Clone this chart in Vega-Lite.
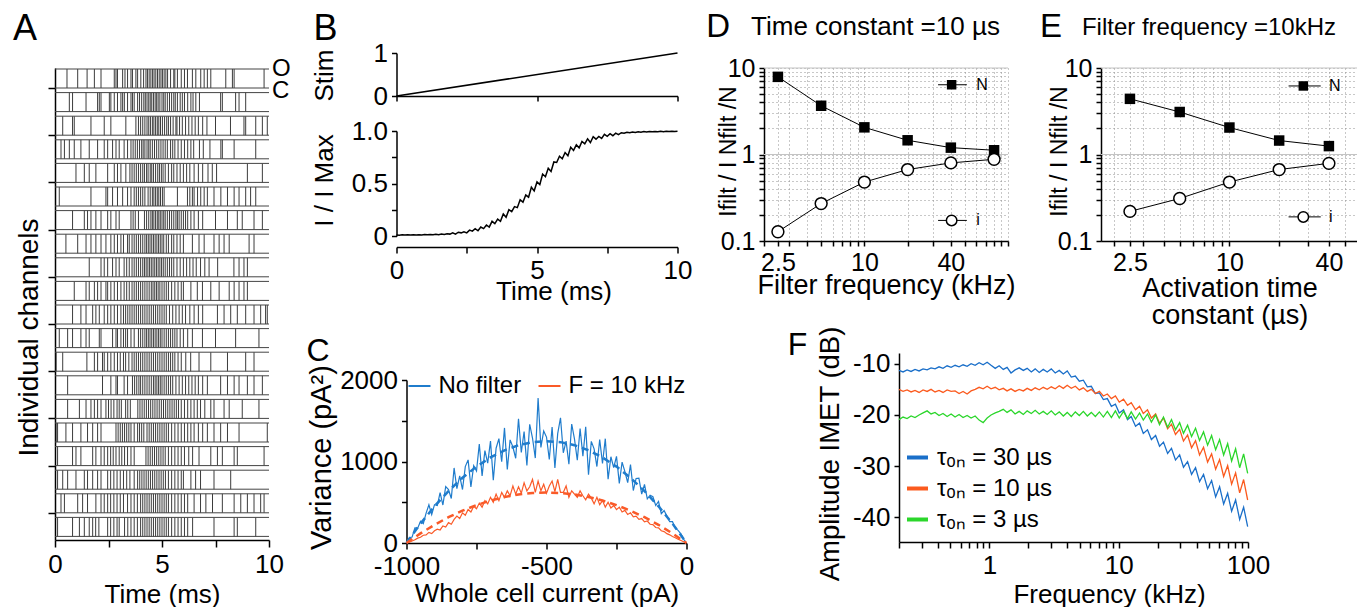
{
"$schema":"https://vega.github.io/schema/vega-lite/v6.json",
"background":"white",
"padding":{"left":12,"top":11,"right":0,"bottom":0},
"config":{
 "font":"Liberation Sans",
 "view":{"stroke":null},
 "axis":{"grid":false,"labelFontSize":26,"titleFontSize":28,"titleFontWeight":"normal","labelColor":"black","titleColor":"black","domainColor":"black","tickColor":"black","domainWidth":1.5,"tickWidth":1.5,"tickSize":5,"labelPadding":4,"labelFont":"Liberation Sans","titleFont":"Liberation Sans","labelFlush":false,"labelOverlap":false},
 "text":{"font":"Liberation Sans","color":"black"},
 "legend":{"labelFont":"Liberation Sans","labelColor":"black"}
},
"resolve":{"scale":{"color":"independent"},"legend":{"color":"independent"}},
"hconcat":[
 {"resolve":{"scale":{"color":"independent"},"legend":{"color":"independent"}},
  "hconcat":[
  {"vconcat":[
   {"width":1,"height":1,"data":{"values":[]},"mark":"point","encoding":{}},
   {
   "width":214,"height":472,
   "data":{"values":[
    {"c":1,"t":[0.56,1.06,1.5,1.84,2.15,2.77,2.85,2.92,3.16,3.27,3.39,3.55,3.62,3.78,3.86,4.01,4.14,4.25,4.32,4.4,4.48,4.56,4.63,4.71,4.79,4.87,4.95,5.02,5.1,5.18,5.26,5.4,5.55,5.6,5.72,5.9,6.05,6.19,6.42,6.58,6.81,6.97,7.12,7.28,7.98,8.29,8.37,9.77]},
    {"c":2,"t":[0.67,0.82,1.45,1.99,2.07,2.15,2.54,2.61,2.77,2.92,3.08,3.16,3.24,3.39,3.55,3.62,3.7,3.86,3.95,4.05,4.15,4.22,4.3,4.38,4.45,4.52,4.6,4.68,4.75,4.82,4.9,5.0,5.08,5.15,5.25,5.35,5.45,5.55,5.62,5.72,5.85,5.95,6.05,6.2,6.35,6.45,6.58,6.75,7.74,7.82,8.44,8.6,8.91]},
    {"c":3,"t":[0.36,0.82,0.9,1.68,2.3,2.61,3.31,3.78,3.9,4.0,4.1,4.2,4.3,4.38,4.46,4.55,4.62,4.7,4.78,4.85,4.93,5.02,5.12,5.22,5.3,5.4,5.52,5.65,5.7,5.82,5.95,6.1,6.25,6.4,6.55,6.7,6.9,7.1,7.5,8.2,8.83,8.91,9.38,9.69,9.92]},
    {"c":4,"t":[0.28,0.44,0.67,0.9,1.21,1.6,1.99,2.3,2.46,2.69,2.85,3.0,3.23,3.39,3.55,3.65,3.75,3.85,3.95,4.05,4.12,4.2,4.3,4.38,4.45,4.55,4.65,4.75,4.85,4.95,5.05,5.15,5.25,5.4,5.5,5.6,5.75,5.9,6.05,6.2,6.35,6.48,6.75,6.93,7.24,7.75,7.82,8.37,9.38]},
    {"c":5,"t":[0.98,1.37,1.6,1.91,2.46,2.77,2.92,3.08,3.31,3.5,3.6,3.7,3.8,3.9,4.0,4.1,4.18,4.28,4.35,4.45,4.52,4.6,4.7,4.8,4.88,4.97,5.05,5.15,5.3,5.45,5.55,5.7,5.85,6.0,6.15,6.3,6.5,6.7,6.9,7.15,7.35,7.55,8.99,9.69]},
    {"c":6,"t":[0.2,1.68,2.38,2.46,2.69,2.92,3.16,3.39,3.55,3.7,3.8,3.9,4.0,4.1,4.2,4.35,4.45,4.55,4.62,4.7,4.78,4.85,4.93,5.02,5.1,5.72,6.19,6.3,6.42,6.5,6.66,6.81,6.97,7.12,7.43,7.75,8.06,8.37,8.6,8.91,9.14,9.38]},
    {"c":7,"t":[0.82,1.37,1.52,1.68,1.91,2.15,2.46,2.61,2.85,3.0,3.55,3.65,3.75,3.9,4.18,4.28,4.38,4.48,4.55,4.62,4.7,4.78,4.85,4.92,5.0,5.08,5.15,5.25,5.35,5.45,5.55,5.65,5.72,5.8,5.9,6.0,6.1,6.2,6.35,6.5,6.7,6.9,7.5,8.06,8.52,8.75,9.3,9.69]},
    {"c":8,"t":[0.51,1.06,1.45,1.68,1.91,2.15,2.38,2.61,2.77,2.92,3.08,3.2,3.39,3.47,3.6,3.7,3.8,3.9,4.0,4.1,4.2,4.28,4.36,4.44,4.52,4.6,4.68,4.76,4.84,4.92,5.0,5.08,5.2,5.3,5.45,5.55,5.7,5.85,6.0,6.42,6.73,6.97,7.43,7.67,7.9,8.14,9.07,9.3]},
    {"c":9,"t":[1.6,2.15,2.3,2.46,2.69,2.85,3.0,3.23,3.35,3.47,3.6,3.7,3.8,3.9,4.0,4.1,4.18,4.26,4.34,4.42,4.5,4.58,4.66,4.74,4.82,4.9,4.98,5.06,5.15,5.25,5.35,5.45,5.55,5.7,5.85,6.0,6.15,6.3,6.45,6.6,6.8,7.0,7.2,7.6,8.36,8.6,8.83,8.99]},
    {"c":10,"t":[0.9,1.45,1.6,1.84,1.99,2.15,2.38,2.46,2.61,2.77,2.92,3.08,3.23,3.35,3.47,3.6,3.7,3.8,3.9,4.0,4.1,4.2,4.3,4.4,4.5,4.58,4.66,4.74,4.82,4.9,5.0,5.1,5.2,5.3,5.45,5.6,5.75,5.9,6.0,6.35,6.65,6.89,7.28,7.67,8.14,8.37,8.6,8.83,8.99]},
    {"c":11,"t":[0.82,1.21,1.45,1.76,1.91,2.07,2.3,2.46,2.61,2.77,2.92,3.08,3.2,3.3,3.4,3.5,3.6,3.7,3.8,3.9,4.0,4.1,4.2,4.3,4.4,4.5,4.6,4.7,4.8,4.9,5.0,5.1,5.2,5.35,5.5,5.65,5.8,5.95,6.1,6.3,6.5,6.7,6.9,7.59,7.9,8.21,8.52,8.91,9.3,9.61,9.84,9.92]},
    {"c":12,"t":[0.2,0.59,0.82,1.21,1.45,1.6,2.07,2.15,2.69,2.85,2.92,3.08,3.2,3.3,3.39,3.55,3.7,3.9,4.0,4.1,4.2,4.28,4.36,4.44,4.52,4.6,4.68,4.76,4.84,4.92,5.0,5.1,5.2,5.3,5.4,5.5,5.6,5.7,5.85,6.0,6.2,6.42,6.89,7.5,8.44,9.53]},
    {"c":13,"t":[0.05,0.36,1.49,1.84,1.99,2.22,2.3,2.46,2.61,2.77,2.92,3.05,3.2,3.3,3.45,3.6,3.7,3.8,3.9,4.0,4.1,4.2,4.3,4.4,4.5,4.6,4.7,4.8,4.9,5.0,5.1,5.2,5.3,5.4,5.5,5.6,5.75,5.9,6.11,6.34,6.73,7.28,8.06,8.91,9.3]},
    {"c":14,"t":[0.59,2.22,2.61,2.85,2.92,3.23,3.39,3.62,3.72,3.82,3.92,4.0,4.1,4.2,4.3,4.4,4.5,4.6,4.68,4.76,4.84,4.92,5.0,5.1,5.2,5.3,5.4,5.5,5.65,5.8,5.95,6.1,6.25,6.4,6.55,6.7,6.9,7.12,7.74,8.06,8.37,8.6,8.99,9.3,9.69]},
    {"c":15,"t":[0.59,1.14,1.45,1.68,1.84,1.99,2.15,2.38,2.5,2.62,2.75,2.9,3.0,3.1,3.3,3.4,3.52,3.87,3.97,4.07,4.17,4.27,4.37,4.47,4.57,4.67,4.77,4.87,4.97,5.07,5.17,5.27,5.37,5.47,5.57,5.67,5.77,5.9,6.05,6.2,6.35,6.5,6.65,6.8,7.0,7.28,7.43,7.9,8.14,8.75,9.53]},
    {"c":16,"t":[0.05,0.12,0.51,0.82,1.21,1.52,1.76,1.99,2.15,2.85,2.95,3.05,3.15,3.25,3.35,3.45,3.55,3.7,3.86,3.95,4.05,4.15,4.3,4.4,4.5,4.6,4.7,4.8,4.9,5.0,5.1,5.2,5.3,5.45,5.6,5.75,5.9,6.05,6.2,6.35,6.5,6.7,6.9,7.12,7.43,7.74,8.06,8.6,9.92]},
    {"c":17,"t":[0.12,0.82,0.98,1.21,1.76,1.91,2.15,2.3,2.46,2.6,2.72,2.85,3.0,3.12,3.25,3.39,3.55,3.7,4.25,4.35,4.45,4.55,4.65,4.75,4.85,4.95,5.05,5.15,5.3,5.45,5.6,5.75,5.9,6.05,6.25,6.43,6.73,7.28,7.59,7.82,8.37,8.52,9.77]},
    {"c":18,"t":[0.12,0.36,0.59,0.98,1.37,1.52,1.76,1.99,2.15,2.46,2.6,2.75,2.9,3.05,3.2,3.35,3.5,3.7,3.86,3.96,4.06,4.16,4.26,4.36,4.46,4.56,4.66,4.76,4.86,4.96,5.06,5.16,5.3,5.45,5.6,5.75,5.9,6.0,6.35,6.57,6.8,7.43,8.21]},
    {"c":19,"t":[0.28,0.44,1.06,1.29,1.52,1.91,2.15,2.3,2.46,2.6,2.75,2.9,3.05,3.2,3.39,3.55,3.7,3.85,4.0,4.1,4.2,4.3,4.4,4.5,4.6,4.7,4.8,4.9,5.0,5.1,5.2,5.3,5.45,5.6,5.75,5.9,6.05,6.2,6.5,6.8,7.05,7.36,7.82,8.37,8.68,8.99,9.3,9.61,9.77]},
    {"c":20,"t":[0.12,0.82,1.14,1.37,1.6,1.76,1.9,2.05,2.46,2.6,2.75,2.9,3.0,3.25,3.4,3.55,3.7,3.85,4.0,4.1,4.2,4.3,4.4,4.5,4.6,4.7,4.8,4.9,5.0,5.1,5.2,5.3,5.45,5.6,5.75,5.9,6.05,6.2,6.43,7.43,8.37,8.52,9.38]}
   ]},
   "layer":[
    {"transform":[{"flatten":["t"]}],
     "mark":{"type":"tick","orient":"vertical","size":19,"thickness":1,"color":"#1a1a1a","opacity":0.85,"yOffset":-1.3},
     "encoding":{
      "x":{"field":"t","type":"quantitative","scale":{"domain":[0,10],"nice":false},
       "axis":{"title":"Time (ms)","values":[0,2.5,5,7.5,10],"labelExpr":"datum.value % 5 == 0 ? datum.label : ''","tickSize":7,"titleFontSize":26,"titleY":54,"titleBaseline":"middle"}},
      "y":{"field":"c","type":"ordinal","scale":{"paddingInner":0,"paddingOuter":0},
       "axis":{"title":"Individual channels","values":[1,3,5,7,9,11,13,15,17,19],"labels":false,"tickSize":7,"tickOffset":8.2,"titleX":-26,"titleY":269,"titleAngle":-90,"titleBaseline":"middle","titleAlign":"center","titleFontSize":28}}
     }},
    {"mark":{"type":"rule","color":"#444444","strokeWidth":1,"yOffset":-10.8},
     "encoding":{"x":{"datum":0},"x2":{"datum":10},"y":{"field":"c","type":"ordinal"}}},
    {"mark":{"type":"rule","color":"#444444","strokeWidth":1,"yOffset":8.2},
     "encoding":{"x":{"datum":0},"x2":{"datum":10},"y":{"field":"c","type":"ordinal"}}},
    {"data":{"values":[{"c":1,"lab":"O"}]},
     "mark":{"type":"text","align":"left","baseline":"middle","dx":3,"yOffset":-10.8,"fontSize":24},
     "encoding":{"x":{"datum":10},"y":{"field":"c","type":"ordinal"},"text":{"field":"lab"}}},
    {"data":{"values":[{"c":1,"lab":"C"}]},
     "mark":{"type":"text","align":"left","baseline":"middle","dx":3,"yOffset":11,"fontSize":24},
     "encoding":{"x":{"datum":10},"y":{"field":"c","type":"ordinal"},"text":{"field":"lab"}}},
    {"data":{"values":[{"c":1,"lab":"A"}]},
     "mark":{"type":"text","align":"left","baseline":"alphabetic","yOffset":-39.8,"fontSize":36},
     "encoding":{"x":{"datum":-1.963},"y":{"field":"c","type":"ordinal"},"text":{"field":"lab"}}}
   ]
   }
  ],"spacing":14,"bounds":"flush"},
  {"resolve":{"scale":{"color":"independent"},"legend":{"color":"independent"}},
   "vconcat":[
   {"vconcat":[
    {
     "width":281,"height":43,
     "layer":[
      {"data":{"values":[{"t":0,"s":0},{"t":10,"s":1}]},
       "mark":{"type":"line","color":"black","strokeWidth":1.5},
       "encoding":{
        "x":{"field":"t","type":"quantitative","scale":{"domain":[0,10],"nice":false},"axis":{"title":null,"labels":false,"values":[0,5,10],"tickSize":5}},
        "y":{"field":"s","type":"quantitative","scale":{"domain":[0,1],"nice":false},"axis":{"title":"Stim","values":[0,0.5,1],"labelExpr":"datum.value == 0 ? '0' : datum.value == 1 ? '1' : ''","titleX":-72,"titleY":22,"titleAngle":-90,"titleBaseline":"middle","titleAlign":"center","titleFontSize":26}}
       }},
      {"data":{"values":[{}]},
       "mark":{"type":"text","text":"B","align":"left","baseline":"alphabetic","fontSize":36},
       "encoding":{"x":{"datum":-2.95},"y":{"datum":1.302}}}
     ]
    },
    {
     "width":281,"height":105,
     "data":{"values":[
      {"t":0,"v":0.01},{"t":0.1,"v":0.008},{"t":0.2,"v":0.012},{"t":0.3,"v":0.009},{"t":0.4,"v":0.011},{"t":0.5,"v":0.01},{"t":0.6,"v":0.013},{"t":0.7,"v":0.009},{"t":0.8,"v":0.012},{"t":0.9,"v":0.01},
      {"t":1.0,"v":0.014},{"t":1.1,"v":0.011},{"t":1.2,"v":0.015},{"t":1.3,"v":0.012},{"t":1.4,"v":0.016},{"t":1.5,"v":0.013},{"t":1.6,"v":0.018},{"t":1.7,"v":0.015},{"t":1.8,"v":0.021},{"t":1.9,"v":0.018},
      {"t":2.0,"v":0.03},{"t":2.1,"v":0.018},{"t":2.2,"v":0.036},{"t":2.3,"v":0.03},{"t":2.4,"v":0.041},{"t":2.5,"v":0.03},{"t":2.6,"v":0.056},{"t":2.7,"v":0.046},{"t":2.8,"v":0.07},{"t":2.9,"v":0.05},
      {"t":3.0,"v":0.085},{"t":3.1,"v":0.07},{"t":3.2,"v":0.105},{"t":3.3,"v":0.085},{"t":3.4,"v":0.14},{"t":3.5,"v":0.118},{"t":3.6,"v":0.16},{"t":3.7,"v":0.14},{"t":3.8,"v":0.21},{"t":3.9,"v":0.178},
      {"t":4.0,"v":0.25},{"t":4.1,"v":0.232},{"t":4.2,"v":0.28},{"t":4.3,"v":0.27},{"t":4.4,"v":0.345},{"t":4.5,"v":0.322},{"t":4.6,"v":0.39},{"t":4.7,"v":0.37},{"t":4.8,"v":0.465},{"t":4.9,"v":0.43},
      {"t":5.0,"v":0.515},{"t":5.1,"v":0.49},{"t":5.2,"v":0.59},{"t":5.3,"v":0.565},{"t":5.4,"v":0.645},{"t":5.5,"v":0.615},{"t":5.6,"v":0.705},{"t":5.7,"v":0.7},{"t":5.8,"v":0.76},{"t":5.9,"v":0.735},
      {"t":6.0,"v":0.795},{"t":6.1,"v":0.765},{"t":6.2,"v":0.845},{"t":6.3,"v":0.815},{"t":6.4,"v":0.868},{"t":6.5,"v":0.84},{"t":6.6,"v":0.9},{"t":6.7,"v":0.878},{"t":6.8,"v":0.925},{"t":6.9,"v":0.89},
      {"t":7.0,"v":0.945},{"t":7.1,"v":0.922},{"t":7.2,"v":0.948},{"t":7.3,"v":0.93},{"t":7.4,"v":0.968},{"t":7.5,"v":0.95},{"t":7.6,"v":0.975},{"t":7.7,"v":0.955},{"t":7.8,"v":0.98},{"t":7.9,"v":0.966},
      {"t":8.0,"v":0.984},{"t":8.1,"v":0.978},{"t":8.2,"v":0.988},{"t":8.3,"v":0.983},{"t":8.4,"v":0.99},{"t":8.5,"v":0.986},{"t":8.6,"v":0.993},{"t":8.7,"v":0.988},{"t":8.8,"v":0.994},{"t":8.9,"v":0.99},
      {"t":9.0,"v":0.995},{"t":9.1,"v":0.992},{"t":9.2,"v":0.996},{"t":9.3,"v":0.993},{"t":9.4,"v":0.997},{"t":9.5,"v":0.994},{"t":9.6,"v":0.997},{"t":9.7,"v":0.995},{"t":9.8,"v":0.998},{"t":9.9,"v":0.995},{"t":10.0,"v":0.997}
     ]},
     "mark":{"type":"line","color":"black","strokeWidth":1.5},
     "encoding":{
      "x":{"field":"t","type":"quantitative","scale":{"domain":[0,10],"nice":false},"axis":{"title":"Time (ms)","offset":11,"values":[0,2.5,5,7.5,10],"labelExpr":"datum.value % 5 == 0 ? datum.label : ''","tickSize":6,"titleX":157,"titleY":44.5,"titleBaseline":"middle","titleFontSize":26}},
      "y":{"field":"v","type":"quantitative","scale":{"domain":[0,1],"nice":false},"axis":{"title":"I / I Max","values":[0,0.25,0.5,0.75,1],"labelExpr":"datum.value == 0 ? '0' : datum.value == 0.5 ? '0.5' : datum.value == 1 ? '1.0' : ''","titleX":-72,"titleY":49,"titleAngle":-90,"titleBaseline":"middle","titleAlign":"center","titleFontSize":26}}
     }
    }
   ],"spacing":35,"bounds":"flush"},
   {"resolve":{"scale":{"color":"independent"},"legend":{"color":"independent"}},
    "hconcat":[
    {"width":1,"height":1,"data":{"values":[]},"mark":"point","encoding":{}},
    {
    "width":280,"height":163,
    "layer":[
     {"data":{"values":[
      {"x":-1000,"b":0,"o":0},{"x":-990,"b":65,"o":10},{"x":-980,"b":73,"o":25},{"x":-970,"b":186,"o":40},{"x":-960,"b":182,"o":60},{"x":-950,"b":268,"o":70},{"x":-940,"b":237,"o":95},{"x":-930,"b":366,"o":100},{"x":-920,"b":468,"o":130},{"x":-910,"b":350,"o":115},
      {"x":-900,"b":470,"o":150},{"x":-890,"b":460,"o":170},{"x":-880,"b":618,"o":160},{"x":-870,"b":466,"o":210},{"x":-860,"b":692,"o":195},{"x":-850,"b":655,"o":250},{"x":-840,"b":546,"o":230},{"x":-830,"b":921,"o":290},{"x":-820,"b":666,"o":330},{"x":-810,"b":823,"o":300},
      {"x":-800,"b":656,"o":370},{"x":-790,"b":937,"o":340},{"x":-780,"b":1020,"o":410},{"x":-770,"b":687,"o":380},{"x":-760,"b":948,"o":450},{"x":-750,"b":884,"o":420},{"x":-740,"b":1214,"o":490},{"x":-730,"b":823,"o":440},{"x":-720,"b":1133,"o":520},{"x":-710,"b":980,"o":480},
      {"x":-700,"b":1250,"o":560},{"x":-690,"b":770,"o":500},{"x":-680,"b":1163,"o":600},{"x":-670,"b":1280,"o":520},{"x":-660,"b":997,"o":620},{"x":-650,"b":1412,"o":560},{"x":-640,"b":902,"o":640},{"x":-630,"b":1265,"o":580},{"x":-620,"b":1178,"o":700},{"x":-610,"b":1040,"o":600},
      {"x":-600,"b":1525,"o":690},{"x":-590,"b":1110,"o":610},{"x":-580,"b":1368,"o":740},{"x":-570,"b":950,"o":640},{"x":-560,"b":1457,"o":690},{"x":-550,"b":1288,"o":780},{"x":-540,"b":1042,"o":620},{"x":-530,"b":1780,"o":760},{"x":-520,"b":1173,"o":640},{"x":-510,"b":1375,"o":720},
      {"x":-500,"b":1300,"o":610},{"x":-490,"b":1025,"o":700},{"x":-480,"b":1423,"o":760},{"x":-470,"b":920,"o":630},{"x":-460,"b":1342,"o":780},{"x":-450,"b":1537,"o":620},{"x":-440,"b":1107,"o":620},{"x":-430,"b":1250,"o":700},{"x":-420,"b":968,"o":560},{"x":-410,"b":1460,"o":640},
      {"x":-400,"b":1275,"o":600},{"x":-390,"b":1015,"o":560},{"x":-380,"b":1403,"o":640},{"x":-370,"b":1066,"o":580},{"x":-360,"b":1427,"o":530},{"x":-350,"b":838,"o":600},{"x":-340,"b":1247,"o":550},{"x":-330,"b":1156,"o":480},{"x":-320,"b":938,"o":560},{"x":-310,"b":1270,"o":470},
      {"x":-300,"b":975,"o":520},{"x":-290,"b":1280,"o":440},{"x":-280,"b":783,"o":500},{"x":-270,"b":1058,"o":430},{"x":-260,"b":926,"o":460},{"x":-250,"b":1063,"o":410},{"x":-240,"b":732,"o":440},{"x":-230,"b":993,"o":380},{"x":-220,"b":876,"o":400},{"x":-210,"b":740,"o":350},
      {"x":-200,"b":962,"o":370},{"x":-190,"b":644,"o":320},{"x":-180,"b":792,"o":330},{"x":-170,"b":796,"o":290},{"x":-160,"b":600,"o":300},{"x":-150,"b":718,"o":260},{"x":-140,"b":542,"o":270},{"x":-130,"b":586,"o":230},{"x":-120,"b":568,"o":225},{"x":-110,"b":460,"o":190},
      {"x":-100,"b":510,"o":185},{"x":-90,"b":360,"o":150},{"x":-80,"b":398,"o":140},{"x":-70,"b":330,"o":115},{"x":-60,"b":262,"o":100},{"x":-50,"b":262,"o":80},{"x":-40,"b":182,"o":65},{"x":-30,"b":155,"o":45},{"x":-20,"b":113,"o":30},{"x":-10,"b":45,"o":15},{"x":0,"b":0,"o":0}
     ]},
     "transform":[{"fold":["b","o"],"as":["k","v"]}],
     "mark":{"type":"line","strokeWidth":1.2},
     "encoding":{
      "x":{"field":"x","type":"quantitative","scale":{"domain":[-1000,0],"nice":false},"axis":{"title":"Whole cell current (pA)","values":[-1000,-750,-500,-250,0],"labelExpr":"datum.value % 500 == 0 ? toString(datum.value) : ''","tickSize":6,"titleY":50,"titleBaseline":"middle","titleFontSize":26}},
      "y":{"field":"v","type":"quantitative","scale":{"domain":[0,2000],"nice":false},"axis":{"title":"Variance (pA²)","values":[0,500,1000,1500,2000],"labelExpr":"datum.value % 1000 == 0 ? toString(datum.value) : ''","titleX":-85,"titleY":77,"titleAngle":-90,"titleBaseline":"middle","titleAlign":"center","titleFontSize":29}},
      "color":{"field":"k","type":"nominal","scale":{"domain":["b","o"],"range":["#1f7ccc","#fa5a28"]},
       "legend":{"title":null,"orient":"none","legendX":1,"legendY":-6,"direction":"horizontal","symbolType":"stroke","symbolStrokeWidth":2,"symbolSize":484,"labelFontSize":24,"labelExpr":"datum.value == 'b' ? 'No filter' : 'F = 10 kHz'","columnPadding":13,"labelOffset":7}}
     }},
     {"data":{"values":[
      {"x":-1000,"b":0,"o":0},{"x":-950,"b":237.5,"o":117.8},{"x":-900,"b":450,"o":223.2},{"x":-850,"b":637.5,"o":316.2},{"x":-800,"b":800,"o":396.8},{"x":-750,"b":937.5,"o":465},{"x":-700,"b":1050,"o":520.8},{"x":-650,"b":1137.5,"o":564.2},{"x":-600,"b":1200,"o":595.2},{"x":-550,"b":1237.5,"o":613.8},
      {"x":-500,"b":1250,"o":620},{"x":-450,"b":1237.5,"o":613.8},{"x":-400,"b":1200,"o":595.2},{"x":-350,"b":1137.5,"o":564.2},{"x":-300,"b":1050,"o":520.8},{"x":-250,"b":937.5,"o":465},{"x":-200,"b":800,"o":396.8},{"x":-150,"b":637.5,"o":316.2},{"x":-100,"b":450,"o":223.2},{"x":-50,"b":237.5,"o":117.8},{"x":0,"b":0,"o":0}
     ]},
     "transform":[{"fold":["b","o"],"as":["k","v"]}],
     "mark":{"type":"line","strokeWidth":2.5,"strokeDash":[7,5]},
     "encoding":{"x":{"field":"x","type":"quantitative"},"y":{"field":"v","type":"quantitative"},"color":{"field":"k","type":"nominal"}}},
     {"data":{"values":[{}]},
      "mark":{"type":"text","text":"C","align":"left","baseline":"alphabetic","fontSize":32},
      "encoding":{"x":{"datum":-1357},"y":{"datum":2233}}}
    ]
    }
   ],"spacing":9,"bounds":"flush"}
  ],"spacing":30}
 ],"spacing":15.5},
 {"resolve":{"scale":{"color":"independent"},"legend":{"color":"independent"}},
  "vconcat":[
  {"vconcat":[
   {"width":1,"height":1,"data":{"values":[]},"mark":"point","encoding":{}},
   {"hconcat":[
   {
    "width":244,"height":173,
    "layer":[
     {"data":{"values":[{}]},"mark":{"type":"rule","color":"#c4c4c4","strokeWidth":1.2},"encoding":{"y":{"datum":1}}},
     {"data":{"values":[{}]},"mark":{"type":"rule","color":"#c4c4c4","strokeWidth":1.2},"encoding":{"y":{"datum":10}}},
     {"data":{"values":[{"f":2.5,"N":7.9,"i":0.128},{"f":5,"N":3.66,"i":0.271},{"f":10,"N":2.06,"i":0.48},{"f":20,"N":1.46,"i":0.67},{"f":40,"N":1.2,"i":0.8},{"f":80,"N":1.12,"i":0.88}]},
      "transform":[{"fold":["N","i"],"as":["k","v"]}],
      "mark":{"type":"line","color":"black","strokeWidth":1},
      "encoding":{
       "x":{"field":"f","type":"quantitative","scale":{"type":"log","domain":[2,100],"nice":false},"axis":{"title":"Filter frequency (kHz)","values":[2,2.5,3,4,5,6,7,8,9,10,20,30,40,50,60,70,80,90,100],"labelExpr":"datum.value == 2.5 || datum.value == 10 || datum.value == 40 ? toString(datum.value) : ''","labelFontSize":25,"titleFontSize":27,"titleY":44.5,"titleBaseline":"middle","grid":true,"gridDash":[1,3],"gridColor":"#909090","gridWidth":1}},
       "y":{"field":"v","type":"quantitative","scale":{"type":"log","domain":[0.1,10],"nice":false},"axis":{"title":"Ifilt / I   Nfilt /N","values":[0.1,0.2,0.3,0.4,0.5,0.6,0.7,0.8,0.9,1,2,3,4,5,6,7,8,9,10],"labelExpr":"datum.value == 0.1 || datum.value == 1 || datum.value == 10 ? toString(datum.value) : ''","labelFontSize":25,"titleFontSize":23,"titleX":-36,"titleY":83,"titleAngle":-90,"titleBaseline":"middle","titleAlign":"center","grid":true,"gridDash":[1,3],"gridColor":"#909090","gridWidth":1}},
       "detail":{"field":"k"}
      }},
     {"data":{"values":[{"f":2.5,"N":7.9},{"f":5,"N":3.66},{"f":10,"N":2.06},{"f":20,"N":1.46},{"f":40,"N":1.2},{"f":80,"N":1.12}]},
      "mark":{"type":"point","shape":"square","filled":true,"color":"black","size":110,"opacity":1},
      "encoding":{"x":{"field":"f","type":"quantitative"},"y":{"field":"N","type":"quantitative"}}},
     {"data":{"values":[{"f":2.5,"i":0.128},{"f":5,"i":0.271},{"f":10,"i":0.48},{"f":20,"i":0.67},{"f":40,"i":0.8},{"f":80,"i":0.88}]},
      "mark":{"type":"point","shape":"circle","filled":true,"fill":"white","stroke":"black","strokeWidth":1.5,"size":140,"opacity":1},
      "encoding":{"x":{"field":"f","type":"quantitative"},"y":{"field":"i","type":"quantitative"}}},
     {"data":{"values":[{}]},"mark":{"type":"rule","color":"black","strokeWidth":1},"encoding":{"x":{"datum":32.6},"x2":{"datum":51.7},"y":{"datum":6.4}}},
     {"data":{"values":[{}]},"mark":{"type":"point","shape":"square","filled":true,"color":"black","size":90,"opacity":1},"encoding":{"x":{"datum":40.5},"y":{"datum":6.4}}},
     {"data":{"values":[{}]},"mark":{"type":"text","text":"N","align":"left","baseline":"middle","fontSize":16},"encoding":{"x":{"datum":60},"y":{"datum":6.4}}},
     {"data":{"values":[{}]},"mark":{"type":"rule","color":"black","strokeWidth":1},"encoding":{"x":{"datum":32.6},"x2":{"datum":51.7},"y":{"datum":0.173}}},
     {"data":{"values":[{}]},"mark":{"type":"point","shape":"circle","filled":true,"fill":"white","stroke":"black","strokeWidth":1.5,"size":110,"opacity":1},"encoding":{"x":{"datum":40.5},"y":{"datum":0.173}}},
     {"data":{"values":[{}]},"mark":{"type":"text","text":"i","align":"left","baseline":"middle","fontSize":16},"encoding":{"x":{"datum":60},"y":{"datum":0.173}}},
     {"data":{"values":[{}]},"mark":{"type":"text","text":"Time constant =10 µs","align":"left","baseline":"alphabetic","fontSize":26},"encoding":{"x":{"datum":1.625},"y":{"datum":24.2}}},
     {"data":{"values":[{}]},"mark":{"type":"text","text":"D","align":"left","baseline":"alphabetic","fontSize":33},"encoding":{"x":{"datum":0.791},"y":{"datum":22.8}}}
    ]
   },
   {
    "width":257,"height":173,
    "layer":[
     {"data":{"values":[{}]},"mark":{"type":"rule","color":"#c4c4c4","strokeWidth":1.2},"encoding":{"y":{"datum":1}}},
     {"data":{"values":[{}]},"mark":{"type":"rule","color":"#c4c4c4","strokeWidth":1.2},"encoding":{"y":{"datum":10}}},
     {"data":{"values":[{"f":2.5,"N":4.4,"i":0.22},{"f":5,"N":3.1,"i":0.31},{"f":10,"N":2.05,"i":0.48},{"f":20,"N":1.45,"i":0.67},{"f":40,"N":1.25,"i":0.79}]},
      "transform":[{"fold":["N","i"],"as":["k","v"]}],
      "mark":{"type":"line","color":"black","strokeWidth":1},
      "encoding":{
       "x":{"field":"f","type":"quantitative","scale":{"type":"log","domain":[1.67,60],"nice":false},"axis":{"title":["Activation time","constant (µs)"],"values":[2,2.5,3,4,5,6,7,8,9,10,20,30,40,50,60],"labelExpr":"datum.value == 2.5 || datum.value == 10 || datum.value == 40 ? toString(datum.value) : ''","labelFontSize":25,"titleFontSize":27,"titleLineHeight":27,"titleY":47,"titleBaseline":"middle","grid":true,"gridDash":[1,3],"gridColor":"#909090","gridWidth":1}},
       "y":{"field":"v","type":"quantitative","scale":{"type":"log","domain":[0.1,10],"nice":false},"axis":{"title":"Ifilt / I   Nfilt /N","values":[0.1,0.2,0.3,0.4,0.5,0.6,0.7,0.8,0.9,1,2,3,4,5,6,7,8,9,10],"labelExpr":"datum.value == 0.1 || datum.value == 1 || datum.value == 10 ? toString(datum.value) : ''","labelFontSize":25,"titleFontSize":23,"titleX":-42,"titleY":83,"titleAngle":-90,"titleBaseline":"middle","titleAlign":"center","grid":true,"gridDash":[1,3],"gridColor":"#909090","gridWidth":1}},
       "detail":{"field":"k"}
      }},
     {"data":{"values":[{"f":2.5,"N":4.4},{"f":5,"N":3.1},{"f":10,"N":2.05},{"f":20,"N":1.45},{"f":40,"N":1.25}]},
      "mark":{"type":"point","shape":"square","filled":true,"color":"black","size":110,"opacity":1},
      "encoding":{"x":{"field":"f","type":"quantitative"},"y":{"field":"N","type":"quantitative"}}},
     {"data":{"values":[{"f":2.5,"i":0.22},{"f":5,"i":0.31},{"f":10,"i":0.48},{"f":20,"i":0.67},{"f":40,"i":0.79}]},
      "mark":{"type":"point","shape":"circle","filled":true,"fill":"white","stroke":"black","strokeWidth":1.5,"size":140,"opacity":1},
      "encoding":{"x":{"field":"f","type":"quantitative"},"y":{"field":"i","type":"quantitative"}}},
     {"data":{"values":[{}]},"mark":{"type":"rule","color":"black","strokeWidth":1},"encoding":{"x":{"datum":22.8},"x2":{"datum":35.7},"y":{"datum":6.2}}},
     {"data":{"values":[{}]},"mark":{"type":"point","shape":"square","filled":true,"color":"black","size":90,"opacity":1},"encoding":{"x":{"datum":28},"y":{"datum":6.2}}},
     {"data":{"values":[{}]},"mark":{"type":"text","text":"N","align":"left","baseline":"middle","fontSize":16},"encoding":{"x":{"datum":40},"y":{"datum":6.2}}},
     {"data":{"values":[{}]},"mark":{"type":"rule","color":"black","strokeWidth":1},"encoding":{"x":{"datum":22.8},"x2":{"datum":35.7},"y":{"datum":0.19}}},
     {"data":{"values":[{}]},"mark":{"type":"point","shape":"circle","filled":true,"fill":"white","stroke":"black","strokeWidth":1.5,"size":110,"opacity":1},"encoding":{"x":{"datum":28},"y":{"datum":0.19}}},
     {"data":{"values":[{}]},"mark":{"type":"text","text":"i","align":"left","baseline":"middle","fontSize":16},"encoding":{"x":{"datum":40},"y":{"datum":0.19}}},
     {"data":{"values":[{}]},"mark":{"type":"text","text":"Filter frequency =10kHz","align":"left","baseline":"alphabetic","fontSize":24},"encoding":{"x":{"datum":1.28},"y":{"datum":24.2}}},
     {"data":{"values":[{}]},"mark":{"type":"text","text":"E","align":"left","baseline":"alphabetic","fontSize":33},"encoding":{"x":{"datum":0.713},"y":{"datum":22.8}}}
    ]
   }
   ],"spacing":93,"bounds":"flush"}
  ],"spacing":14,"bounds":"flush"},
  {"resolve":{"scale":{"color":"independent"},"legend":{"color":"independent"}},
   "hconcat":[
   {"width":1,"height":1,"data":{"values":[]},"mark":"point","encoding":{}},
   {
    "width":349,"height":189,
    "layer":[
     {"data":{"values":[
     {"f":0.2,"b":-11.3,"o":-15.0,"g":-20.9},{"f":0.215,"b":-11.6,"o":-15.4,"g":-20.4},{"f":0.231,"b":-11.2,"o":-15.1,"g":-20.7},{"f":0.248,"b":-11.5,"o":-15.5,"g":-20.2},{"f":0.266,"b":-11.1,"o":-15.2,"g":-20.5},
     {"f":0.286,"b":-11.4,"o":-15.6,"g":-20.0},{"f":0.307,"b":-11.0,"o":-15.1,"g":-19.6},{"f":0.33,"b":-11.2,"o":-15.4,"g":-19.2},{"f":0.354,"b":-10.8,"o":-15.0,"g":-19.8},{"f":0.38,"b":-11.0,"o":-15.5,"g":-19.5},
     {"f":0.408,"b":-10.6,"o":-15.2,"g":-20.1},{"f":0.438,"b":-10.9,"o":-15.6,"g":-19.7},{"f":0.471,"b":-10.4,"o":-15.1,"g":-20.3},{"f":0.506,"b":-10.7,"o":-15.4,"g":-19.8},{"f":0.543,"b":-10.3,"o":-15.3,"g":-20.4},
     {"f":0.583,"b":-10.6,"o":-15.8,"g":-19.9},{"f":0.626,"b":-10.2,"o":-15.4,"g":-20.5},{"f":0.673,"b":-10.5,"o":-15.9,"g":-20.1},{"f":0.722,"b":-10.0,"o":-15.3,"g":-20.6},{"f":0.776,"b":-10.3,"o":-15.0,"g":-20.2},
     {"f":0.833,"b":-9.8,"o":-14.6,"g":-21.0},{"f":0.895,"b":-10.2,"o":-14.9,"g":-21.5},{"f":0.961,"b":-9.7,"o":-14.4,"g":-20.6},{"f":1.03,"b":-10.3,"o":-14.9,"g":-20.0},{"f":1.11,"b":-10.9,"o":-14.6,"g":-19.6},
     {"f":1.19,"b":-10.4,"o":-15.1,"g":-19.3},{"f":1.28,"b":-11.1,"o":-14.8,"g":-18.9},{"f":1.37,"b":-10.7,"o":-15.3,"g":-19.5},{"f":1.47,"b":-11.8,"o":-14.9,"g":-19.0},{"f":1.58,"b":-11.2,"o":-15.4,"g":-19.8},
     {"f":1.7,"b":-10.8,"o":-15.0,"g":-19.3},{"f":1.83,"b":-11.3,"o":-15.3,"g":-19.9},{"f":1.96,"b":-10.9,"o":-14.8,"g":-19.2},{"f":2.11,"b":-11.6,"o":-15.2,"g":-19.7},{"f":2.26,"b":-11.0,"o":-14.7,"g":-19.1},
     {"f":2.43,"b":-11.7,"o":-15.1,"g":-19.8},{"f":2.61,"b":-11.1,"o":-14.6,"g":-19.3},{"f":2.8,"b":-11.6,"o":-15.0,"g":-19.9},{"f":3.01,"b":-11.0,"o":-14.5,"g":-19.2},{"f":3.23,"b":-11.8,"o":-14.9,"g":-20.0},
     {"f":3.47,"b":-11.3,"o":-14.3,"g":-19.4},{"f":3.73,"b":-12.0,"o":-14.8,"g":-20.2},{"f":4.0,"b":-11.4,"o":-14.2,"g":-19.5},{"f":4.3,"b":-12.6,"o":-14.8,"g":-20.3},{"f":4.62,"b":-12.4,"o":-14.4,"g":-19.4},
     {"f":4.96,"b":-13.4,"o":-15.1,"g":-20.1},{"f":5.33,"b":-13.2,"o":-14.7,"g":-19.3},{"f":5.72,"b":-14.5,"o":-15.4,"g":-20.2},{"f":6.14,"b":-14.4,"o":-15.0,"g":-19.5},{"f":6.6,"b":-15.8,"o":-15.8,"g":-20.3},
     {"f":7.09,"b":-15.7,"o":-15.4,"g":-19.4},{"f":7.61,"b":-17.0,"o":-16.3,"g":-20.4},{"f":8.17,"b":-16.8,"o":-15.9,"g":-19.3},{"f":8.78,"b":-18.3,"o":-16.8,"g":-20.5},{"f":9.43,"b":-17.9,"o":-16.3,"g":-19.2},
     {"f":10.1,"b":-19.6,"o":-17.5,"g":-20.6},{"f":10.9,"b":-19.0,"o":-16.9,"g":-19.3},{"f":11.7,"b":-20.9,"o":-18.1,"g":-20.7},{"f":12.5,"b":-20.3,"o":-17.6,"g":-19.4},{"f":13.5,"b":-22.2,"o":-19.0,"g":-20.8},
     {"f":14.5,"b":-21.6,"o":-18.3,"g":-19.6},{"f":15.5,"b":-23.6,"o":-19.7,"g":-21.0},{"f":16.7,"b":-22.9,"o":-19.0,"g":-19.8},{"f":17.9,"b":-24.8,"o":-20.6,"g":-21.4},{"f":19.3,"b":-24.0,"o":-19.8,"g":-20.0},
     {"f":20.7,"b":-26.1,"o":-21.6,"g":-21.9},{"f":22.2,"b":-25.3,"o":-20.6,"g":-20.4},{"f":23.9,"b":-27.5,"o":-22.7,"g":-22.4},{"f":25.6,"b":-26.5,"o":-21.8,"g":-20.9},{"f":27.5,"b":-28.8,"o":-23.8,"g":-22.9},
     {"f":29.6,"b":-27.8,"o":-22.8,"g":-21.5},{"f":31.7,"b":-30.2,"o":-25.1,"g":-23.6},{"f":34.1,"b":-29.1,"o":-23.9,"g":-22.0},{"f":36.6,"b":-31.6,"o":-26.4,"g":-24.2},{"f":39.3,"b":-30.3,"o":-25.0,"g":-22.6},
     {"f":42.2,"b":-33.0,"o":-27.8,"g":-25.0},{"f":45.3,"b":-31.6,"o":-26.3,"g":-23.3},{"f":48.7,"b":-34.4,"o":-29.2,"g":-25.9},{"f":52.3,"b":-32.8,"o":-27.6,"g":-24.0},{"f":56.2,"b":-36.0,"o":-30.6,"g":-26.8},
     {"f":60.3,"b":-34.0,"o":-28.7,"g":-24.8},{"f":64.8,"b":-37.4,"o":-32.0,"g":-27.8},{"f":69.6,"b":-35.3,"o":-29.9,"g":-25.6},{"f":74.7,"b":-38.8,"o":-33.5,"g":-29.0},{"f":80.2,"b":-36.6,"o":-31.3,"g":-26.6},
     {"f":86.2,"b":-40.4,"o":-35.2,"g":-30.3},{"f":92.5,"b":-38.0,"o":-32.6,"g":-27.6},{"f":99.4,"b":-41.8,"o":-36.6,"g":-31.4}
     ]},
     "transform":[{"fold":["b","o","g"],"as":["k","v"]}],
     "mark":{"type":"line","strokeWidth":1.3},
     "encoding":{
      "x":{"field":"f","type":"quantitative","scale":{"type":"log","domain":[0.2,100],"nice":false},"axis":{"title":"Frequency (kHz)","values":[0.2,0.3,0.4,0.5,0.6,0.7,0.8,0.9,1,2,3,4,5,6,7,8,9,10,20,30,40,50,60,70,80,90,100],"labelExpr":"datum.value == 1 || datum.value == 10 || datum.value == 100 ? toString(datum.value) : ''","tickSize":6,"titleX":210,"titleY":52,"titleBaseline":"middle","titleFontSize":26}},
      "y":{"field":"v","type":"quantitative","scale":{"domain":[-44.8,-7.9],"nice":false,"zero":false},"axis":{"title":"Amplitude IMET (dB)","values":[-10,-20,-30,-40],"labelExpr":"toString(datum.value)","titleX":-69,"titleY":100.5,"titleAngle":-90,"titleBaseline":"middle","titleAlign":"center","titleFontSize":27.5}},
      "color":{"field":"k","type":"nominal","scale":{"domain":["b","o","g"],"range":["#1a6fc9","#fb5a1e","#2bd62b"]},
       "legend":{"title":null,"orient":"none","legendX":6,"legendY":92,"symbolType":"stroke","symbolStrokeWidth":4,"symbolSize":441,"labelFontSize":24,"labelExpr":"datum.value == 'b' ? 'τₒₙ = 30 µs' : datum.value == 'o' ? 'τₒₙ = 10 µs' : 'τₒₙ = 3 µs'","rowPadding":6,"labelOffset":7}}
     }},
     {"data":{"values":[{}]},
      "mark":{"type":"text","text":"F","align":"left","baseline":"alphabetic","fontSize":32},
      "encoding":{"x":{"datum":0.0276},"y":{"datum":-8.29}}}
    ]
   }
  ],"spacing":134,"bounds":"flush"}
 ],"spacing":-3}
],
"spacing":12
}
